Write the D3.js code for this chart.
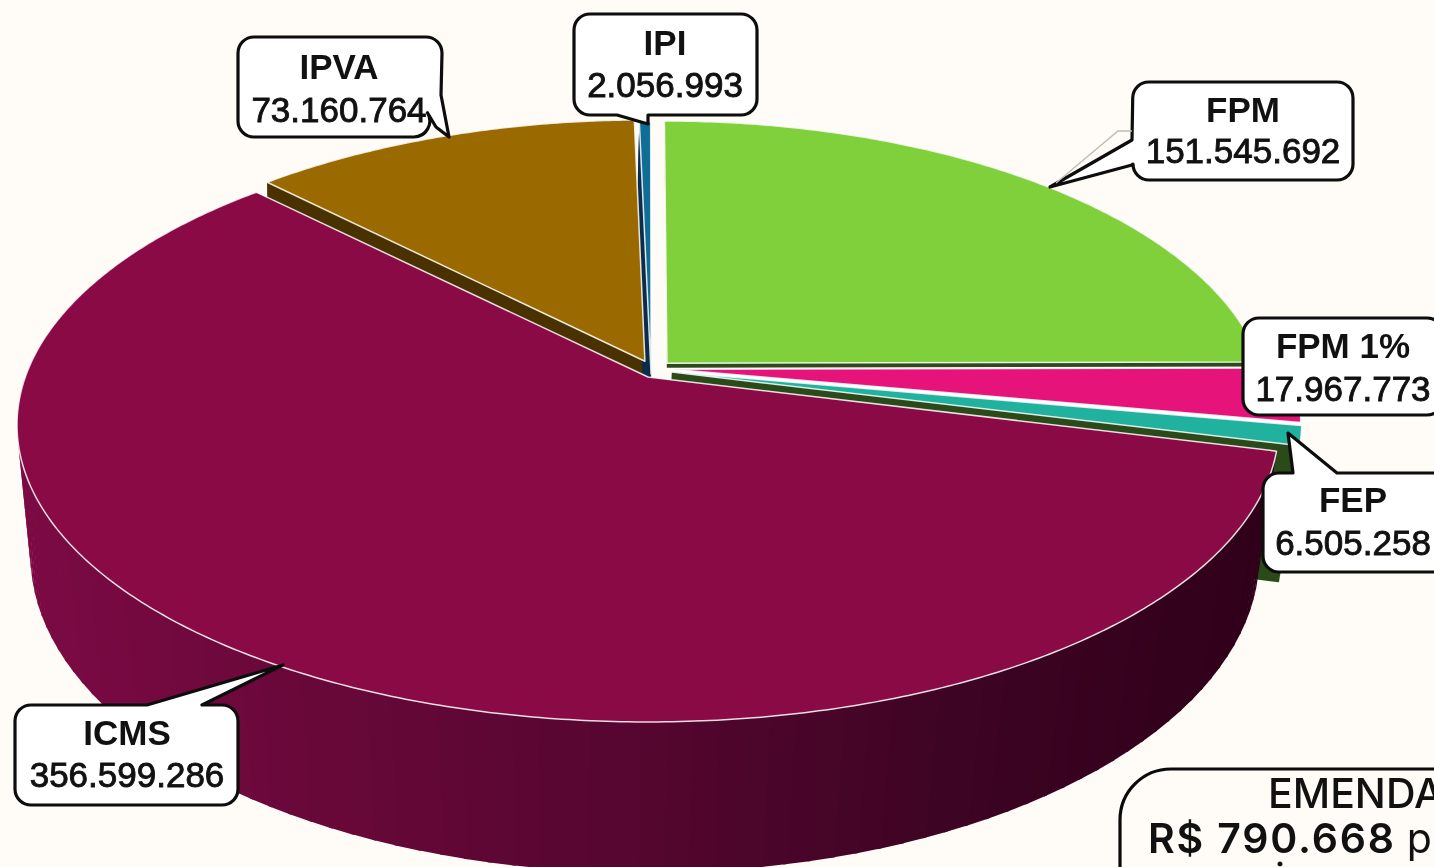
<!DOCTYPE html>
<html>
<head>
<meta charset="utf-8">
<script src="https://cdn.jsdelivr.net/npm/d3@7"></script>
<style>
  html, body { margin: 0; padding: 0; background: #fffbf6; overflow: hidden; }
  svg { display: block; filter: blur(0.45px); }
  text { font-family: "Liberation Sans", Arial, sans-serif; fill: #111; text-anchor: middle; }
</style>
</head>
<body>
<script>
// data, clockwise from the top
var categories = ["FPM", "FPM 1%", "FEP", "ICMS", "IPVA", "IPI"];
var values = [151545692, 17967773, 6505258, 356599286, 73160764, 2056993];
var noteLines = ["EMENDA", "R$ 790.668", "p", "i"];
var noteAmount = 790668;

// define width and height
var width = 1434;
var height = 867;

// slice look, same order as categories
var topColors = ["#80d03c", "#e6147a", "#20b29e", "#8a0a46", "#9a6a00", "#0f6e96"];
var wallColors = ["#2c4a1e", "#ffffff", "#2a4a1a", "#5a0632", "#4a3200", "#0c2c4c"];
// offset in the pie plane (ou, ov), radius factors and how far the wall goes down
var sliceLayout = [
  { ou: 0.0307, ov: -0.048, r: 0.985, rx: 0.961, depth: 0.035 },
  { ou: 0.0385, ov: -0.027, r: 1, rx: 1, depth: 0.035 },
  { ou: 0.0385, ov: -0.017, r: 1, rx: 1, depth: 1 },
  { ou: 0, ov: 0, r: 1, rx: 1, depth: 1 },
  { ou: -0.005, ov: -0.055, r: 0.983, rx: 0.971, depth: 1 },
  { ou: 0.005, ov: -0.01, r: 1.018, rx: 1, depth: 1 }
];

// perspective settings of the top face and the bottom face
var topPlane = { x0: 648, y0: 377, a: 622.7, b: 289.2, k: 0.1616 };
var bottomPlane = { x0: 645, y0: 508.6, a: 608, b: 311, k: 0.146 };

// callout boxes, same order as categories
var callouts = [
  { x: 1133, y: 82, w: 220, h: 98, tail: [[1132, 140], [1050, 187], [1132, 165]], nameY: 122, valueY: 163, cx: 1243 },
  { x: 1243, y: 318, w: 200, h: 97, tail: null, nameY: 358, valueY: 401, cx: 1343 },
  { x: 1263, y: 473, w: 190, h: 99, tail: [[1293, 473], [1288, 433], [1337, 473]], nameY: 512, valueY: 555, cx: 1353 },
  { x: 15, y: 705, w: 223, h: 100, tail: [[147, 705], [283, 665], [202, 705]], nameY: 745, valueY: 787, cx: 127 },
  { x: 238, y: 37, w: 204, h: 100, tail: [[441, 95], [449, 137], [436, 127]], nameY: 79, valueY: 122, cx: 339 },
  { x: 574, y: 14, w: 183, h: 101, tail: [[617, 115], [648, 124], [648, 115]], nameY: 55, valueY: 97, cx: 665 }
];

var brFormat = d3.formatLocale({ decimal: ",", thousands: ".", grouping: [3], currency: ["R$ ", ""] }).format(",d");

var svg = d3.select("body").append("svg").attr("width", width).attr("height", height);
svg.append("rect").attr("width", width).attr("height", height).attr("fill", "#fffbf6");

var pie = d3.pie().sort(null).value(function(d) { return d; });
var slices = pie(values);
var line = d3.line();

// project a pie plane point to the screen
function project(plane, u, v) {
  var w = 1 - plane.k * v;
  return [plane.x0 + plane.a * u / w, plane.y0 + plane.b * v / w];
}
function rimPoint(plane, layout, angle) {
  return project(plane, layout.ou + layout.rx * Math.sin(angle), layout.ov - layout.r * Math.cos(angle));
}
function mix(p, q, t) {
  return [p[0] + (q[0] - p[0]) * t, p[1] + (q[1] - p[1]) * t];
}
function arcAngles(a0, a1) {
  var n = Math.max(2, Math.ceil((a1 - a0) / 0.01));
  return d3.range(n + 1).map(function(i) { return a0 + (a1 - a0) * i / n; });
}

// wall point: part of the way from the top face to the bottom face
function wallPoint(layout, angle) {
  return mix(rimPoint(topPlane, layout, angle), rimPoint(bottomPlane, layout, angle), layout.depth);
}

var wallShade = d3.scaleLinear()
  .domain([17, 330, 640, 950, 1270])
  .range(["#7c0a44", "#680839", "#560630", "#3f0424", "#30001a"]);

// walls of the pulled out slices go first
var walls = svg.append("g").attr("class", "walls");
slices.forEach(function(s, i) {
  if (categories[i] == "ICMS") return;
  var l = sliceLayout[i];
  var apexTop = project(topPlane, l.ou, l.ov);
  var apexBottom = mix(apexTop, project(bottomPlane, l.ou, l.ov), l.depth);
  var angles = arcAngles(s.startAngle, s.endAngle);
  var rim = angles.map(function(a) { return rimPoint(topPlane, l, a); })
    .concat(angles.slice().reverse().map(function(a) { return wallPoint(l, a); }));
  [
    [apexTop, rimPoint(topPlane, l, s.startAngle), wallPoint(l, s.startAngle), apexBottom],
    [apexTop, rimPoint(topPlane, l, s.endAngle), wallPoint(l, s.endAngle), apexBottom],
    rim
  ].forEach(function(poly) {
    walls.append("path").attr("d", line(poly) + "Z").attr("fill", wallColors[i]);
  });
});

// ICMS wall, shaded in strips that overlap a little so no seams show
var icmsIndex = categories.indexOf("ICMS");
var icms = slices[icmsIndex];
var stripAngles = d3.range(icms.startAngle, icms.endAngle, 0.035).concat([icms.endAngle]);
walls.selectAll("path.strip")
  .data(d3.pairs(stripAngles))
  .enter().append("path")
  .attr("class", "strip")
  .attr("d", function(d) {
    var l = sliceLayout[icmsIndex];
    var a1 = Math.min(d[1] + 0.006, icms.endAngle);
    return line([rimPoint(topPlane, l, d[0]), rimPoint(topPlane, l, a1),
                 rimPoint(bottomPlane, l, a1), rimPoint(bottomPlane, l, d[0])]) + "Z";
  })
  .attr("fill", function(d) { return wallShade(rimPoint(topPlane, sliceLayout[icmsIndex], d[0])[0]); });

// top faces, ICMS under the others
var drawOrder = [3, 0, 1, 2, 4, 5];
svg.append("g").attr("class", "tops")
  .selectAll("path")
  .data(drawOrder)
  .enter().append("path")
  .attr("d", function(i) {
    var s = slices[i], l = sliceLayout[i];
    var pts = [project(topPlane, l.ou, l.ov)]
      .concat(arcAngles(s.startAngle, s.endAngle).map(function(a) { return rimPoint(topPlane, l, a); }));
    return line(pts) + "Z";
  })
  .attr("fill", function(i) { return topColors[i]; })
  .attr("stroke", "#ffffff")
  .attr("stroke-opacity", 0.85)
  .attr("stroke-width", 1.5)
  .attr("stroke-linejoin", "round");

// box outline with the tail cut into it, tail given as [start, tip, end]
function calloutPath(c) {
  var r = 16;
  var x0 = c.x, y0 = c.y, x1 = c.x + c.w, y1 = c.y + c.h;
  var p = d3.path();
  var top = c.tail && c.tail[0][1] == y0;
  var bottom = c.tail && c.tail[0][1] == y1;
  var left = c.tail && c.tail[0][0] < x0 + 1;
  var right = c.tail && c.tail[0][0] > x1 - 3;
  function tail(order) {
    order.forEach(function(k) { p.lineTo(c.tail[k][0], c.tail[k][1]); });
  }
  p.moveTo(x0 + r, y0);
  if (top) tail([0, 1, 2]);
  p.arcTo(x1, y0, x1, y0 + r, r);
  if (right) tail([0, 1, 2]);
  p.arcTo(x1, y1, x1 - r, y1, r);
  if (bottom) tail([2, 1, 0]);
  p.arcTo(x0, y1, x0, y1 - r, r);
  if (left) tail([2, 1, 0]);
  p.arcTo(x0, y0, x0 + r, y0, r);
  p.closePath();
  return p.toString();
}

var boxes = svg.append("g").attr("class", "callouts")
  .selectAll("g")
  .data(callouts)
  .enter().append("g");

boxes.append("path")
  .attr("d", calloutPath)
  .attr("fill", "#ffffff")
  .attr("stroke", "#0d0d0d")
  .attr("stroke-width", 3.2)
  .attr("stroke-linejoin", "round");

boxes.append("text")
  .attr("x", function(d) { return d.cx; })
  .attr("y", function(d) { return d.nameY; })
  .attr("font-size", 35)
  .attr("font-weight", "bold")
  .text(function(d, i) { return categories[i]; });

boxes.append("text")
  .attr("x", function(d) { return d.cx; })
  .attr("y", function(d) { return d.valueY; })
  .attr("font-size", 35)
  .attr("stroke", "#111")
  .attr("stroke-width", 0.9)
  .text(function(d, i) { return brFormat(values[i]); });

// faint second line beside the FPM tail
svg.append("path")
  .attr("d", line([[1132, 131], [1118, 131], [1056, 183]]))
  .attr("fill", "none")
  .attr("stroke", "#bdbdb5")
  .attr("stroke-width", 1.4);

// note box, cut by the right and bottom edge
var note = svg.append("g").attr("class", "note");
note.append("path")
  .attr("d", function() {
    var p = d3.path();
    p.moveTo(1120, height + 10);
    p.lineTo(1120, 820);
    p.arcTo(1120, 769, 1171, 769, 51);
    p.lineTo(width + 10, 769);
    return p.toString();
  })
  .attr("fill", "none")
  .attr("stroke", "#0a0a0a")
  .attr("stroke-width", 3.2);

note.append("text")
  .attr("x", 1268).attr("y", 808)
  .style("text-anchor", "start")
  .style("font-family", "Inter")
  .attr("font-size", 41)
  .attr("font-weight", 500)
  .text(noteLines[0]);

var noteLine = note.append("text")
  .attr("x", 1148).attr("y", 853)
  .style("text-anchor", "start")
  .style("font-family", "Inter")
  .attr("font-size", 41);
noteLine.append("tspan").attr("font-weight", 600).attr("letter-spacing", 1.8).text("R$ " + brFormat(noteAmount));
noteLine.append("tspan").attr("dx", 11).attr("font-weight", 400).text(noteLines[2]);

note.append("text")
  .attr("x", 1280).attr("y", 893)
  .style("font-family", "Inter")
  .attr("font-size", 41)
  .text(noteLines[3]);
</script>
</body>
</html>
